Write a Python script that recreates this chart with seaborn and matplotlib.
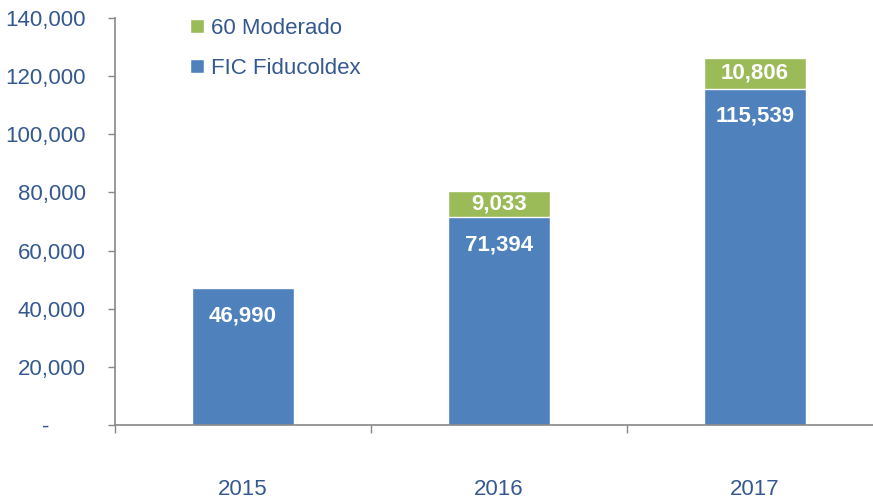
"""
    stacked bars: FIC Fiducoldex + 60 Moderado per year
"""
import matplotlib
matplotlib.use('Agg')
import matplotlib.pyplot as plt
import numpy as np
import pandas as pd
import seaborn as sns
from matplotlib.ticker import FuncFormatter, FixedLocator

years = ['2015', '2016', '2017']
fic_fiducoldex = [46990, 71394, 115539]
moderado_60 = [0, 9033, 10806]

blue = '#4F81BD'
green = '#9BBB59'
txt = '#35598F'

sns.set_theme(style='white')
plt.rcParams['font.family'] = ['Liberation Sans Narrow', 'Liberation Sans', 'DejaVu Sans']

df = pd.DataFrame({'year': years, 'fic': fic_fiducoldex, 'mod': moderado_60})
df['total'] = df['fic'] + df['mod']

fig = plt.figure(figsize=(8.73, 5.04), dpi=100)
ax = fig.add_axes([115/873, 79/504, 768/873, 407/504])

# total first (green), then fic on top of it (blue) -> stacked look
sns.barplot(data=df, x='year', y='total', color=green, width=0.4, ax=ax,
            saturation=1, label='60 Moderado')
sns.barplot(data=df, x='year', y='fic', color=blue, width=0.4, ax=ax,
            saturation=1, label='FIC Fiducoldex')

ax.set_xlim(-0.5, 2.5)
ax.set_ylim(0, 140000)
ax.set_xlabel('')
ax.set_ylabel('')

# y axis
ax.yaxis.set_major_locator(FixedLocator(np.arange(0, 140001, 20000)))
ax.yaxis.set_major_formatter(FuncFormatter(lambda v, p: '-      ' if v == 0 else f'{v:,.0f}'))
ax.tick_params(axis='y', which='major', length=5, width=1, color='#888888',
               pad=16, labelsize=16, labelcolor=txt, left=True)

# x axis: marks between categories, labels far below
ax.xaxis.set_minor_locator(FixedLocator([-0.5, 0.5, 1.5, 2.5]))
ax.tick_params(axis='x', which='minor', length=6, width=1, color='#888888', bottom=True)
ax.tick_params(axis='x', which='major', length=0, pad=39, labelsize=16, labelcolor=txt)

for s in ['top', 'right']:
    ax.spines[s].set_visible(False)
for s in ['left', 'bottom']:
    ax.spines[s].set_color('#888888')
    ax.spines[s].set_linewidth(1.2)

# value labels
for i, row in df.iterrows():
    ax.annotate(f"{row['fic']:,}", xy=(i, row['fic']), xytext=(0, -12), textcoords='offset points',
                ha='center', va='top', color='white', fontsize=16, fontweight='bold')
    if row['mod'] > 0:
        ax.text(i, row['fic'] + row['mod'] / 2, f"{row['mod']:,}", ha='center', va='center',
                color='white', fontsize=16, fontweight='bold')

handles, labels = ax.get_legend_handles_labels()
leg = ax.legend(handles, labels, loc='upper left', bbox_to_anchor=(0.072, 1.05),
                frameon=False, fontsize=16, labelspacing=0.85, handlelength=0.6,
                handleheight=0.6, handletextpad=0.35, labelcolor=txt)

fig.savefig('out.png', dpi=100)
